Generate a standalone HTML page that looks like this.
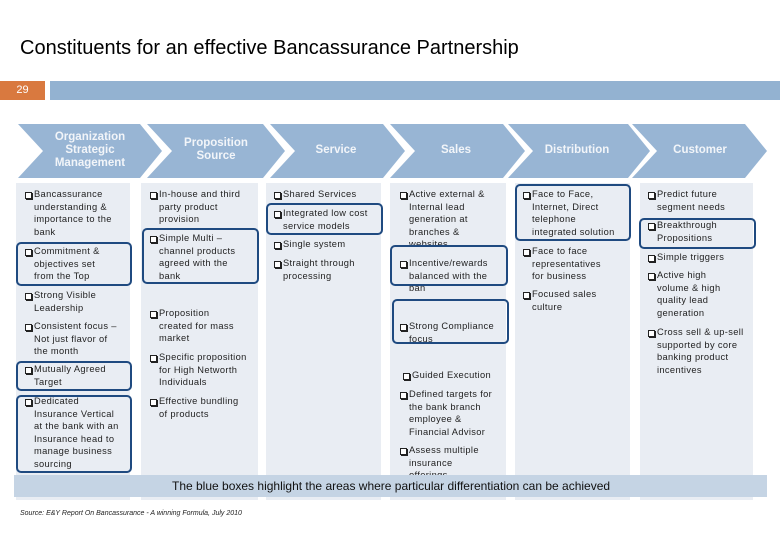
<!DOCTYPE html>
<html><head><meta charset="utf-8"><style>
body{margin:0;width:780px;height:540px;background:#fff;position:relative;overflow:hidden;font-family:"Liberation Sans",Arial,sans-serif}
.a{position:absolute}
.col{position:absolute;top:183px;height:317px;background:#e9edf3}
.it{position:absolute;font-size:9.3px;line-height:12.6px;color:#222;letter-spacing:0.35px;white-space:nowrap}
.it:before{content:"";position:absolute;left:-9px;top:4px;width:5px;height:5px;border:1px solid #222;box-shadow:1px 1px 0 #222;background:#fff}
.hb{position:absolute;border:2.5px solid #1f4a80;border-radius:5px;box-sizing:border-box}
.h{position:absolute;color:#f2f5f9;font-weight:bold;font-size:11.5px;line-height:13px;text-align:center}
</style></head><body>
<div class="a" style="left:20px;top:37px;font-size:20px;color:#000">Constituents for an effective Bancassurance Partnership</div>
<div class="a" style="left:0;top:81px;width:45px;height:19px;background:#d9793f;color:#fff;font-size:11px;line-height:19px;text-align:center">29</div>
<div class="a" style="left:50px;top:81px;width:730px;height:19px;background:#93b2d1"></div>
<svg class="a" style="left:0;top:0" width="780" height="200">
<g fill="#98b5d4">
<polygon points="18,124 140,124 162,151 140,178 18,178 43,151"/>
<polygon points="147,124 263,124 285,151 263,178 147,178 172,151"/>
<polygon points="270,124 383,124 405,151 383,178 270,178 295,151"/>
<polygon points="390,124 503,124 525,151 503,178 390,178 415,151"/>
<polygon points="508,124 628,124 650,151 628,178 508,178 533,151"/>
<polygon points="632,124 745,124 767,151 745,178 632,178 657,151"/>
</g></svg>
<div class="h" style="left:40px;width:100px;top:131px">Organization<br>Strategic<br>Management</div>
<div class="h" style="left:166px;width:100px;top:137px">Proposition<br>Source</div>
<div class="h" style="left:286px;width:100px;top:144px">Service</div>
<div class="h" style="left:406px;width:100px;top:144px">Sales</div>
<div class="h" style="left:527px;width:100px;top:144px">Distribution</div>
<div class="h" style="left:650px;width:100px;top:144px">Customer</div>

<div class="col" style="left:16px;width:114px"></div>
<div class="col" style="left:141px;width:117px"></div>
<div class="col" style="left:266px;width:115px"></div>
<div class="col" style="left:390px;width:116px"></div>
<div class="col" style="left:515px;width:115px"></div>
<div class="col" style="left:640px;width:113px"></div>

<div class="it" style="left:34px;top:188px">Bancassurance<br>understanding &amp;<br>importance to the<br>bank</div>
<div class="it" style="left:34px;top:245px">Commitment &amp;<br>objectives  set<br>from the Top</div>
<div class="it" style="left:34px;top:289px">Strong Visible<br>Leadership</div>
<div class="it" style="left:34px;top:320px">Consistent focus –<br>Not just flavor of<br>the month</div>
<div class="it" style="left:34px;top:363px">Mutually Agreed<br>Target</div>
<div class="it" style="left:34px;top:395px">Dedicated<br>Insurance Vertical<br>at the bank with an<br>Insurance head to<br>manage business<br>sourcing</div>

<div class="it" style="left:159px;top:188px">In-house and third<br>party product<br>provision</div>
<div class="it" style="left:159px;top:232px">Simple Multi –<br>channel products<br>agreed with the<br>bank</div>
<div class="it" style="left:159px;top:307px">Proposition<br>created for mass<br>market</div>
<div class="it" style="left:159px;top:351px">Specific proposition<br>for High Networth<br>Individuals</div>
<div class="it" style="left:159px;top:395px">Effective bundling<br>of products</div>

<div class="it" style="left:283px;top:188px">Shared Services</div>
<div class="it" style="left:283px;top:207px">Integrated low cost<br>service models</div>
<div class="it" style="left:283px;top:238px">Single system</div>
<div class="it" style="left:283px;top:257px">Straight through<br>processing</div>

<div class="it" style="left:409px;top:188px">Active external &amp;<br>Internal lead<br>generation at<br>branches &amp;<br>websites</div>
<div class="it" style="left:409px;top:257px">Incentive/rewards<br>balanced with the<br>ban</div>
<div class="it" style="left:409px;top:320px">Strong Compliance<br>focus</div>
<div class="it" style="left:412px;top:369px">Guided Execution</div>
<div class="it" style="left:409px;top:388px">Defined targets for<br>the bank branch<br>employee &amp;<br>Financial Advisor</div>
<div class="it" style="left:409px;top:444px">Assess multiple<br>insurance<br>offerings</div>

<div class="it" style="left:532px;top:188px">Face to Face,<br>Internet, Direct<br>telephone<br>integrated solution</div>
<div class="it" style="left:532px;top:245px">Face to face<br>representatives<br>for business</div>
<div class="it" style="left:532px;top:288px">Focused sales<br>culture</div>

<div class="it" style="left:657px;top:188px">Predict future<br>segment needs</div>
<div class="it" style="left:657px;top:219px">Breakthrough<br>Propositions</div>
<div class="it" style="left:657px;top:251px">Simple triggers</div>
<div class="it" style="left:657px;top:269px">Active high<br>volume &amp; high<br>quality  lead<br>generation</div>
<div class="it" style="left:657px;top:326px">Cross sell &amp; up-sell<br>supported by core<br>banking  product<br>incentives</div>

<div class="hb" style="left:16px;top:242px;width:116px;height:44px"></div>
<div class="hb" style="left:16px;top:361px;width:116px;height:30px"></div>
<div class="hb" style="left:16px;top:395px;width:116px;height:78px"></div>
<div class="hb" style="left:142px;top:228px;width:117px;height:56px"></div>
<div class="hb" style="left:266px;top:203px;width:117px;height:32px"></div>
<div class="hb" style="left:390px;top:245px;width:118px;height:41px"></div>
<div class="hb" style="left:392px;top:299px;width:117px;height:45px"></div>
<div class="hb" style="left:515px;top:184px;width:116px;height:57px"></div>
<div class="hb" style="left:639px;top:218px;width:117px;height:31px"></div>

<div class="a" style="left:14px;top:475px;width:753px;height:22px;background:#c5d4e4;font-size:12px;line-height:22px;color:#111"><span style="position:absolute;left:158px">The blue boxes highlight the areas where particular differentiation can be achieved</span></div>
<div class="a" style="left:20px;top:510px;font-size:7px;font-style:italic;color:#222">Source: E&amp;Y Report On Bancassurance - A winning Formula, July 2010</div>
</body></html>
